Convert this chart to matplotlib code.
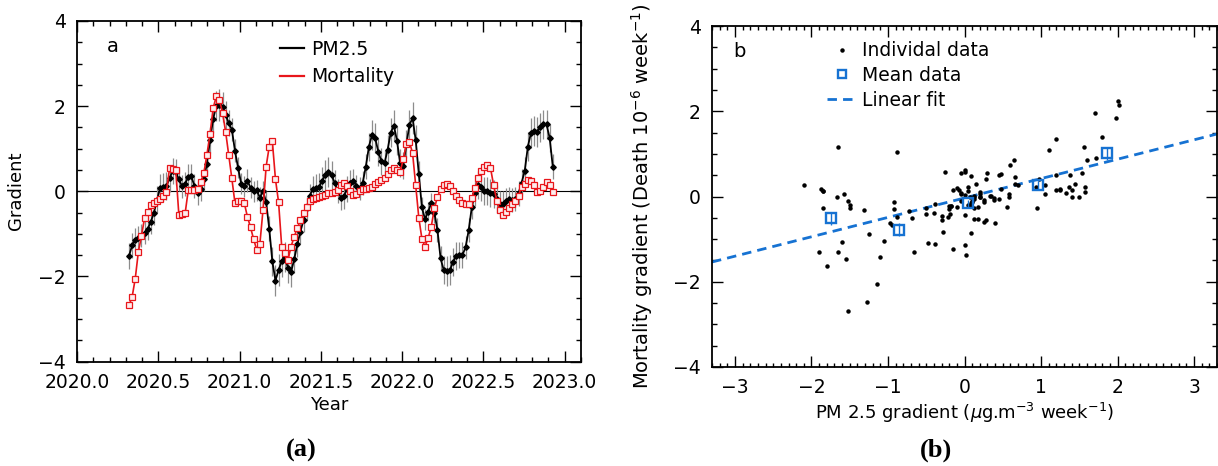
import numpy as np
import matplotlib
matplotlib.use("Agg")
import matplotlib.pyplot as plt
from matplotlib.ticker import MultipleLocator
from matplotlib.lines import Line2D

plt.rcParams['font.family'] = ['DejaVu Sans']
plt.rcParams['mathtext.fontset'] = 'dejavusans'

# ---------------- data ----------------
first_week = 2020.32          # decimal year of the first weekly value
week_len = 7.0 / 365.25

pm25 = [-1.52, -1.27, -1.15, -1.10, -1.05, -0.97, -0.88, -0.72, -0.50, -0.20,
        0.08, 0.10, 0.12, 0.30, 0.48, 0.45, 0.28, 0.12, 0.18, 0.33,
        0.35, 0.12, -0.05, 0.05, 0.28, 0.65, 1.20, 1.70, 2.00, 2.02,
        1.98, 1.80, 1.60, 1.45, 0.95, 0.55, 0.18, 0.12, 0.25, 0.08,
        0.00, 0.02, -0.15, 0.00, -0.25, -0.88, -1.65, -2.10, -1.85, -1.65,
        -1.55, -1.80, -1.90, -1.60, -1.25, -0.95, -0.68, -0.40, -0.10, 0.05,
        0.08, 0.10, 0.25, 0.38, 0.45, 0.38, 0.20, 0.00, -0.15, -0.10,
        0.05, 0.20, 0.25, 0.12, 0.07, 0.20, 0.58, 1.05, 1.33, 1.25,
        0.93, 0.70, 0.66, 0.98, 1.38, 1.54, 1.19, 0.66, 0.60, 1.10,
        1.56, 1.72, 1.20, 0.40, -0.38, -0.66, -0.48, -0.28, -0.50, -0.92,
        -1.58, -1.85, -1.87, -1.85, -1.66, -1.52, -1.50, -1.50, -1.32, -0.92,
        -0.38, -0.05, 0.15, 0.09, 0.01, 0.00, -0.05, -0.07, -0.18, -0.30,
        -0.29, -0.22, -0.19, -0.20, -0.18, -0.05, 0.20, 0.48, 1.05, 1.37,
        1.41, 1.40, 1.50, 1.57, 1.57, 1.25, 0.58]

pm25_err = [0.30, 0.30, 0.28, 0.28, 0.27, 0.27, 0.27, 0.28, 0.30, 0.32,
            0.33, 0.33, 0.33, 0.32, 0.30, 0.30, 0.28, 0.27, 0.28, 0.30,
            0.30, 0.28, 0.28, 0.27, 0.27, 0.28, 0.30, 0.32, 0.35, 0.38,
            0.36, 0.33, 0.30, 0.28, 0.27, 0.25, 0.25, 0.25, 0.27, 0.25,
            0.25, 0.25, 0.25, 0.25, 0.27, 0.30, 0.33, 0.37, 0.38, 0.36,
            0.35, 0.35, 0.35, 0.33, 0.30, 0.28, 0.27, 0.27, 0.28, 0.30,
            0.32, 0.33, 0.33, 0.35, 0.35, 0.33, 0.30, 0.28, 0.30, 0.32,
            0.30, 0.30, 0.28, 0.27, 0.27, 0.28, 0.30, 0.33, 0.35, 0.35,
            0.33, 0.32, 0.32, 0.33, 0.35, 0.37, 0.35, 0.33, 0.32, 0.33,
            0.35, 0.37, 0.35, 0.30, 0.25, 0.25, 0.23, 0.23, 0.25, 0.28,
            0.30, 0.33, 0.35, 0.35, 0.33, 0.32, 0.30, 0.30, 0.28, 0.28,
            0.28, 0.30, 0.33, 0.33, 0.33, 0.33, 0.33, 0.33, 0.32, 0.30,
            0.30, 0.30, 0.28, 0.28, 0.28, 0.30, 0.32, 0.33, 0.35, 0.35,
            0.35, 0.35, 0.35, 0.35, 0.35, 0.33, 0.30]

mortality = [-2.68, -2.48, -2.05, -1.42, -1.05, -0.62, -0.48, -0.33, -0.27, -0.22,
             -0.19, -0.10, -0.02, 0.54, 0.52, 0.50, -0.56, -0.53, -0.52, 0.02,
             0.02, 0.02, 0.05, 0.22, 0.42, 0.86, 1.35, 1.95, 2.23, 2.15,
             1.85, 1.40, 0.85, 0.30, -0.28, -0.24, -0.24, -0.28, -0.60, -0.85,
             -1.13, -1.38, -1.23, -0.44, 0.58, 1.05, 1.17, 0.28, -0.26, -1.30,
             -1.46, -1.62, -1.30, -1.07, -0.87, -0.68, -0.50, -0.38, -0.24, -0.19,
             -0.16, -0.14, -0.12, -0.09, -0.05, -0.03, -0.01, 0.03, 0.15, 0.19,
             0.12, 0.00, -0.08, -0.06, 0.00, 0.05, 0.06, 0.07, 0.09, 0.17,
             0.22, 0.26, 0.30, 0.40, 0.51, 0.54, 0.50, 0.45, 0.75, 1.10,
             1.15, 0.90, 0.15, -0.62, -1.12, -1.30, -1.10, -0.83, -0.40, -0.13,
             0.05, 0.14, 0.17, 0.12, 0.00, -0.11, -0.21, -0.27, -0.31, -0.30,
             -0.17, 0.08, 0.30, 0.48, 0.58, 0.62, 0.55, 0.15, -0.22, -0.45,
             -0.55, -0.48, -0.40, -0.30, -0.22, -0.10, 0.10, 0.17, 0.27, 0.23,
             0.15, -0.01, 0.00, 0.10, 0.22, 0.15, -0.01]

# binned means (panel b)
mean_pm = [-1.75, -0.85, 0.05, 0.96, 1.86]
mean_mort = [-0.51, -0.78, -0.16, 0.27, 1.01]
mean_err = [0.15, 0.15, 0.08, 0.10, 0.15]

# linear fit of mortality gradient vs PM2.5 gradient
fit_slope = 0.455
fit_intercept = -0.035

# ---------------- figure ----------------
W, H = 1218, 466
fig = plt.figure(figsize=(W / 100, H / 100), dpi=100)

def frac(l, r, t, b):
    return [l / W, 1 - b / H, (r - l) / W, (b - t) / H]

ax1 = fig.add_axes(frac(77, 581, 21, 361.5))
ax2 = fig.add_axes(frac(712, 1217, 26, 367))

TICK_FS = 13.5
LAB_FS = 13
red = '#e8161b'
blue = '#1672d2'

def style(ax):
    ax.tick_params(which='both', direction='in', top=True, right=True,
                   labelsize=TICK_FS, width=1.0, pad=8)
    ax.tick_params(which='major', length=8)
    ax.tick_params(which='minor', length=3.5)
    for s in ax.spines.values():
        s.set_linewidth(1.3)

# ---- panel a ----
years = first_week + np.arange(len(pm25)) * week_len
ax1.axhline(0, color='black', lw=0.8, zorder=1)
ax1.errorbar(years, pm25, yerr=pm25_err, fmt='none', ecolor='#8c8c8c',
             elinewidth=0.9, capsize=0, zorder=2)
ax1.plot(years, pm25, color='black', lw=1.3, marker='D', ms=2.8,
         mfc='black', mec='black', zorder=3)
ax1.plot(years, mortality, color=red, lw=1.2, marker='s', ms=3.9,
         mfc='#fdeeee', mec=red, mew=0.9, zorder=4)
ax1.set_xlim(2020.0, 2023.1)
ax1.set_ylim(-4, 4)
ax1.xaxis.set_major_locator(MultipleLocator(0.5))
ax1.xaxis.set_minor_locator(MultipleLocator(0.1))
ax1.yaxis.set_major_locator(MultipleLocator(2))
ax1.yaxis.set_minor_locator(MultipleLocator(0.5))
ax1.xaxis.set_major_formatter(matplotlib.ticker.FormatStrFormatter('%.1f'))
style(ax1)
ax1.set_xlabel('Year', fontsize=LAB_FS, labelpad=3)
ax1.set_ylabel('Gradient', fontsize=LAB_FS)
ax1.yaxis.set_label_coords(-0.103, 0.5)
ax1.text(0.071, 0.925, 'a', transform=ax1.transAxes, fontsize=14,
         ha='center', va='center')
h1 = [Line2D([], [], color='black', lw=1.6), Line2D([], [], color=red, lw=1.6)]
ax1.legend(h1, ['PM2.5', 'Mortality'], loc='upper left',
           bbox_to_anchor=(0.403, 0.945), frameon=False, fontsize=TICK_FS,
           handlelength=1.25, handletextpad=0.4, labelspacing=0.45,
           borderpad=0, borderaxespad=0)

# ---- panel b ----
ax2.plot(pm25, mortality, ls='none', marker='o', ms=2.2, color='black', zorder=3)
xf = np.array([-3.3, 3.3])
ax2.plot(xf, fit_slope * xf + fit_intercept, color=blue, lw=2.0,
         ls=(0, (3.4, 2.2)), zorder=2)
ax2.errorbar(mean_pm, mean_mort, yerr=mean_err, fmt='s', ms=6.5, mfc='none',
             mec=blue, mew=1.7, ecolor=blue, elinewidth=1.0, capsize=0, zorder=4)
ax2.set_xlim(-3.3, 3.3)
ax2.set_ylim(-4, 4)
ax2.xaxis.set_major_locator(MultipleLocator(1))
ax2.xaxis.set_minor_locator(MultipleLocator(0.1))
ax2.yaxis.set_major_locator(MultipleLocator(2))
ax2.yaxis.set_minor_locator(MultipleLocator(0.5))
style(ax2)
ax2.tick_params(axis='x', which='minor', length=3)
ax2.set_xlabel(r'PM 2.5 gradient ($\mu$g.m$^{-3}$ week$^{-1}$)', fontsize=LAB_FS,
               labelpad=3)
ax2.set_ylabel(r'Mortality gradient (Death 10$^{-6}$ week$^{-1}$)', fontsize=14)
ax2.yaxis.set_label_coords(-0.113, 0.5)
ax2.text(0.055, 0.925, 'b', transform=ax2.transAxes, fontsize=14,
         ha='center', va='center')
h2 = [Line2D([], [], ls='none', marker='o', ms=2.2, color='black'),
      Line2D([], [], ls='none', marker='s', ms=6, mfc='none', mec=blue, mew=1.7),
      Line2D([], [], color=blue, lw=2.0, ls=(0, (3.4, 2.2)))]
ax2.legend(h2, ['Individal data', 'Mean data', 'Linear fit'], loc='upper left',
           bbox_to_anchor=(0.228, 0.955), frameon=False, fontsize=TICK_FS,
           handlelength=1.6, handletextpad=0.25, labelspacing=0.3,
           borderpad=0, borderaxespad=0)

# ---- captions ----
fig.text(301 / W, 1 - 450 / H, '(a)', fontsize=19, fontweight='bold',
         family='Liberation Serif', ha='center', va='center')
fig.text(936 / W, 1 - 450 / H, '(b)', fontsize=19, fontweight='bold',
         family='Liberation Serif', ha='center', va='center')

fig.savefig('out.png', dpi=100)
